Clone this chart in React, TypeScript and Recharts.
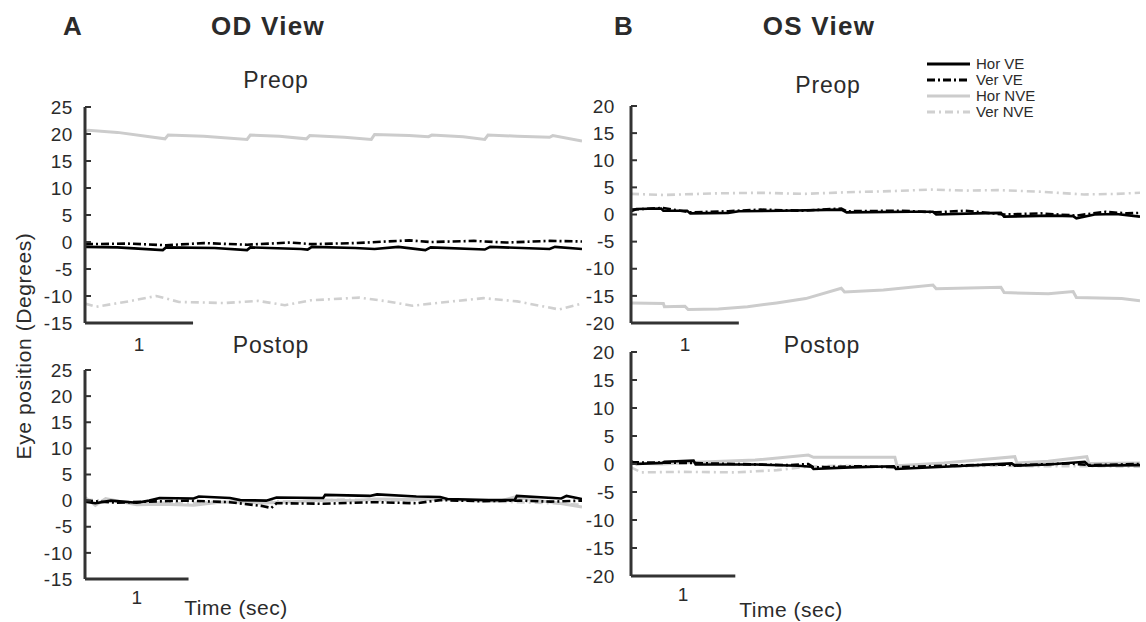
import { LineChart, Line, XAxis, YAxis, ReferenceLine } from 'recharts'

type Pt = [number, number]

// OD view, preop (time in sec, position in degrees)
const odPreHorVe: Pt[] = [[0, -0.9], [0.3, -1.0], [0.72, -1.5], [0.75, -1.0], [1.2, -1.1], [1.5, -1.5], [1.53, -1.0], [2.0, -1.3], [2.06, -1.4], [2.1, -0.9], [2.5, -1.1], [2.68, -1.3], [2.9, -0.9], [3.15, -1.5], [3.2, -1.0], [3.7, -1.4], [3.75, -0.9], [4.3, -1.3], [4.35, -0.9], [4.6, -1.3]]
const odPreVerVe: Pt[] = [[0, -0.4], [0.4, -0.3], [0.75, -0.6], [1.1, -0.2], [1.5, -0.5], [1.9, -0.1], [2.1, -0.4], [2.5, -0.2], [2.8, 0.1], [3.0, 0.3], [3.2, 0.0], [3.6, 0.2], [3.9, -0.1], [4.3, 0.2], [4.6, 0.1]]
const odPreHorNve: Pt[] = [[0, 20.3], [0.03, 20.7], [0.3, 20.3], [0.74, 19.1], [0.77, 19.8], [1.1, 19.6], [1.5, 19.0], [1.53, 19.8], [1.8, 19.6], [2.05, 19.1], [2.08, 19.7], [2.4, 19.4], [2.65, 19.0], [2.68, 19.9], [3.0, 19.7], [3.18, 19.5], [3.21, 19.8], [3.5, 19.5], [3.7, 19.0], [3.73, 19.8], [4.0, 19.6], [4.3, 19.4], [4.33, 19.7], [4.6, 18.7]]
const odPreVerNve: Pt[] = [[0, -11.4], [0.1, -12.0], [0.4, -11.0], [0.66, -10.0], [0.87, -11.1], [1.29, -11.3], [1.6, -10.9], [1.85, -11.7], [2.09, -10.8], [2.54, -10.3], [2.8, -11.0], [3.03, -11.8], [3.3, -11.2], [3.69, -10.4], [4.0, -11.0], [4.39, -12.5], [4.6, -11.4]]

// OD view, postop
const odPostHorVe: Pt[] = [[0, -0.2], [0.1, -0.5], [0.25, 0.0], [0.5, -0.4], [0.62, 0.0], [0.72, 0.5], [1.05, 0.4], [1.1, 0.8], [1.4, 0.5], [1.5, 0.1], [1.75, 0.0], [1.85, 0.6], [2.3, 0.5], [2.32, 1.1], [2.75, 0.9], [2.82, 1.2], [3.2, 0.8], [3.43, 0.7], [3.5, 0.3], [3.9, 0.1], [4.15, 0.1], [4.17, 0.9], [4.6, 0.4], [4.65, 0.9], [4.8, 0.3]]
const odPostVerVe: Pt[] = [[0, 0.0], [0.3, -0.4], [0.6, -0.2], [1.0, 0.0], [1.4, -0.3], [1.7, -1.0], [1.8, -1.4], [1.85, -0.5], [2.3, -0.6], [2.8, -0.3], [3.2, -0.5], [3.43, 0.1], [3.8, -0.1], [4.2, 0.0], [4.5, -0.2], [4.8, 0.0]]
const odPostHorNve: Pt[] = [[0, 0.6], [0.1, -0.9], [0.2, 0.4], [0.35, -0.2], [0.5, -0.8], [0.75, -0.7], [1.05, -0.9], [1.3, -0.3], [1.5, -0.2], [1.7, -0.5], [2.0, -0.2], [2.3, 0.1], [2.6, 0.0], [2.8, 0.3], [3.1, 0.2], [3.4, 0.3], [3.7, 0.0], [4.0, -0.1], [4.15, 0.7], [4.3, 0.2], [4.55, -0.4], [4.8, -1.2]]
const odPostVerNve: Pt[] = [[0, 0.2], [0.5, -0.3], [1.0, -0.5], [1.5, 0.0], [2.0, -0.2], [2.5, 0.2], [3.0, 0.0], [3.5, 0.3], [4.0, -0.2], [4.5, -0.5], [4.8, -0.8]]

// OS view, preop
const osPreHorVe: Pt[] = [[0, 0.6], [0.05, 1.0], [0.28, 1.1], [0.3, 0.7], [0.52, 0.7], [0.55, 0.2], [0.9, 0.3], [1.0, 0.6], [1.4, 0.7], [1.95, 0.9], [2.0, 0.4], [2.6, 0.5], [2.8, 0.5], [2.83, 0.0], [3.2, 0.2], [3.43, 0.3], [3.46, -0.4], [3.9, -0.2], [4.1, -0.3], [4.13, -0.7], [4.3, 0.0], [4.5, 0.1], [4.72, -0.4]]
const osPreVerVe: Pt[] = [[0, 0.9], [0.3, 1.2], [0.55, 0.4], [0.9, 0.6], [1.2, 0.9], [1.6, 0.7], [1.95, 1.1], [2.0, 0.6], [2.5, 0.7], [2.83, 0.4], [3.1, 0.7], [3.46, 0.0], [3.8, 0.2], [4.13, -0.2], [4.4, 0.5], [4.6, 0.2], [4.72, 0.3]]
const osPreHorNve: Pt[] = [[0, -16.3], [0.3, -16.4], [0.31, -17.0], [0.5, -16.9], [0.53, -17.5], [0.81, -17.4], [1.08, -17.0], [1.35, -16.3], [1.62, -15.5], [1.95, -13.6], [1.98, -14.3], [2.34, -13.9], [2.8, -13.0], [2.83, -13.7], [3.43, -13.4], [3.46, -14.4], [3.87, -14.6], [4.1, -14.2], [4.13, -15.3], [4.55, -15.5], [4.72, -15.9]]
const osPreVerNve: Pt[] = [[0, 3.8], [0.3, 3.6], [0.8, 3.9], [1.2, 4.0], [1.6, 3.8], [2.0, 4.1], [2.4, 4.3], [2.8, 4.6], [3.1, 4.4], [3.4, 4.5], [3.8, 4.2], [4.2, 3.7], [4.5, 3.8], [4.72, 4.0]]

// OS view, postop
const osPostHorVe: Pt[] = [[0, 0.5], [0.05, 0.0], [0.3, 0.2], [0.32, 0.4], [0.6, 0.6], [0.62, -0.1], [1.2, -0.1], [1.6, -0.3], [1.73, -0.5], [1.75, -0.9], [2.1, -0.6], [2.52, -0.4], [2.54, -0.9], [3.0, -0.5], [3.65, 0.1], [3.68, -0.3], [4.0, -0.1], [4.35, 0.4], [4.39, -0.3], [4.88, -0.2]]
const osPostVerVe: Pt[] = [[0, 0.3], [0.5, 0.2], [1.0, 0.0], [1.5, -0.2], [1.7, 0.0], [1.75, -0.6], [2.2, -0.4], [2.54, -0.6], [3.0, -0.3], [3.5, -0.1], [3.7, -0.2], [4.2, 0.1], [4.4, -0.2], [4.88, 0.0]]
const osPostHorNve: Pt[] = [[0, 0.2], [0.3, 0.0], [0.62, 0.3], [1.19, 0.7], [1.7, 1.6], [1.75, 1.2], [2.53, 1.2], [2.55, -0.3], [3.0, 0.2], [3.68, 1.3], [3.7, 0.2], [4.0, 0.5], [4.37, 1.3], [4.39, 0.1], [4.88, 0.2]]
const osPostVerNve: Pt[] = [[0, -0.6], [0.1, -1.5], [0.5, -1.4], [1.0, -1.5], [1.4, -1.1], [1.68, -0.5], [2.0, -0.3], [2.5, -0.5], [3.0, -0.5], [3.5, -0.3], [4.0, -0.4], [4.5, -0.4], [4.88, -0.5]]

const odTicks = [-15, -10, -5, 0, 5, 10, 15, 20, 25]
const osTicks = [-20, -15, -10, -5, 0, 5, 10, 15, 20]

const FONT = '"Liberation Sans", Arial, Helvetica, sans-serif'
const INK = '#2b2b2b'
const AXIS = '#333333'

// drawn grey first so the black traces sit on top
const SERIES = [
  { key: 'verNve', name: 'Ver NVE', color: '#d0d0d0', dash: '8 4 2 4', width: 2.6 },
  { key: 'horNve', name: 'Hor NVE', color: '#cccccc', dash: undefined, width: 3 },
  { key: 'verVe', name: 'Ver VE', color: '#000000', dash: '8 3 2 3', width: 2.6 },
  { key: 'horVe', name: 'Hor VE', color: '#000000', dash: undefined, width: 2.6 },
]
const LEGEND_ORDER = ['horVe', 'verVe', 'horNve', 'verNve']

const toPts = (arr: Pt[]) => arr.map(([t, v]) => ({ t, v }))

type PanelProps = {
  left: number
  top: number
  width: number
  height: number
  yDomain: [number, number]
  yTicks: number[]
  xMax: number
  gap: number
  labelGap: number
  lines: Record<string, Pt[]>
}

function Panel({ left, top, width, height, yDomain, yTicks, xMax, gap, labelGap, lines }: PanelProps) {
  const yw = 62
  const mt = 14
  const xh = 40
  return (
    <div style={{ position: 'absolute', left: left - yw, top: top - mt }}>
      <LineChart
        width={yw + width + 4}
        height={mt + height + xh}
        margin={{ top: mt, right: 4, bottom: 0, left: 0 }}
      >
        <XAxis
          type='number'
          dataKey='t'
          domain={[0, xMax]}
          ticks={[0.5]}
          tickFormatter={() => '1'}
          axisLine={false}
          tickLine={false}
          tickSize={0}
          tickMargin={labelGap}
          height={xh}
          allowDataOverflow
          tick={{ fill: INK, fontSize: 19, fontFamily: FONT }}
        />
        <YAxis
          type='number'
          domain={yDomain}
          ticks={yTicks}
          interval={0}
          width={yw}
          allowDataOverflow
          axisLine={{ stroke: AXIS, strokeWidth: 3 }}
          tickLine={{ stroke: AXIS, strokeWidth: 2 }}
          tickSize={-6}
          tickMargin={gap + 6}
          tick={{ fill: INK, fontSize: 19, fontFamily: FONT, letterSpacing: 0.6 }}
        />
        <ReferenceLine
          segment={[{ x: 0, y: yDomain[0] }, { x: 1, y: yDomain[0] }]}
          stroke={AXIS}
          strokeWidth={3}
        />
        {SERIES.map((s) => (
          <Line
            key={s.key}
            data={toPts(lines[s.key])}
            dataKey='v'
            type='linear'
            stroke={s.color}
            strokeWidth={s.width}
            strokeDasharray={s.dash}
            dot={false}
            activeDot={false}
            isAnimationActive={false}
          />
        ))}
      </LineChart>
    </div>
  )
}

export default function App() {
  const textStyle = { fontFamily: FONT, fill: INK }
  return (
    <div style={{ position: 'absolute', left: 0, top: 0, width: 1146, height: 622, background: '#fff', overflow: 'hidden' }}>
      <Panel
        left={85} top={107} width={497} height={216}
        yDomain={[-15, 25]} yTicks={odTicks} xMax={4.6} gap={12} labelGap={15}
        lines={{ horVe: odPreHorVe, verVe: odPreVerVe, horNve: odPreHorNve, verNve: odPreVerNve }}
      />
      <Panel
        left={85} top={370} width={497} height={209}
        yDomain={[-15, 25]} yTicks={odTicks} xMax={4.8} gap={12} labelGap={12}
        lines={{ horVe: odPostHorVe, verVe: odPostVerVe, horNve: odPostHorNve, verNve: odPostVerNve }}
      />
      <Panel
        left={631} top={106} width={509} height={217}
        yDomain={[-20, 20]} yTicks={osTicks} xMax={4.72} gap={16} labelGap={15}
        lines={{ horVe: osPreHorVe, verVe: osPreVerVe, horNve: osPreHorNve, verNve: osPreVerNve }}
      />
      <Panel
        left={631} top={352} width={509} height={224}
        yDomain={[-20, 20]} yTicks={osTicks} xMax={4.88} gap={16} labelGap={12}
        lines={{ horVe: osPostHorVe, verVe: osPostVerVe, horNve: osPostHorNve, verNve: osPostVerNve }}
      />
      <svg width={1146} height={622} style={{ position: 'absolute', left: 0, top: 0, pointerEvents: 'none' }}>
        <text x={63} y={35} fontSize={26} fontWeight='bold' {...textStyle}>A</text>
        <text x={268} y={35} fontSize={26} fontWeight='bold' letterSpacing={1.3} textAnchor='middle' {...textStyle}>OD View</text>
        <text x={614} y={35} fontSize={26} fontWeight='bold' {...textStyle}>B</text>
        <text x={819} y={35} fontSize={26} fontWeight='bold' letterSpacing={1.3} textAnchor='middle' {...textStyle}>OS View</text>

        <text x={276} y={88} fontSize={23} letterSpacing={0.8} textAnchor='middle' {...textStyle}>Preop</text>
        <text x={271} y={353} fontSize={23} letterSpacing={0.8} textAnchor='middle' {...textStyle}>Postop</text>
        <text x={828} y={93} fontSize={23} letterSpacing={0.8} textAnchor='middle' {...textStyle}>Preop</text>
        <text x={822} y={353} fontSize={23} letterSpacing={0.8} textAnchor='middle' {...textStyle}>Postop</text>

        <text x={236} y={615} fontSize={21} letterSpacing={0.5} textAnchor='middle' {...textStyle}>Time (sec)</text>
        <text x={791} y={617} fontSize={21} letterSpacing={0.5} textAnchor='middle' {...textStyle}>Time (sec)</text>
        <text transform='translate(31,346) rotate(-90)' fontSize={21} letterSpacing={0.6} textAnchor='middle' {...textStyle}>
          Eye position (Degrees)
        </text>

        {LEGEND_ORDER.map((k, i) => {
          const s = SERIES.find((d) => d.key === k)!
          const y = 64 + i * 16
          return (
            <g key={k}>
              <line x1={927} x2={970} y1={y} y2={y} stroke={s.color} strokeWidth={3} strokeDasharray={s.dash} />
              <text x={976} y={y + 5} fontSize={15} {...textStyle}>{s.name}</text>
            </g>
          )
        })}
      </svg>
    </div>
  )
}
